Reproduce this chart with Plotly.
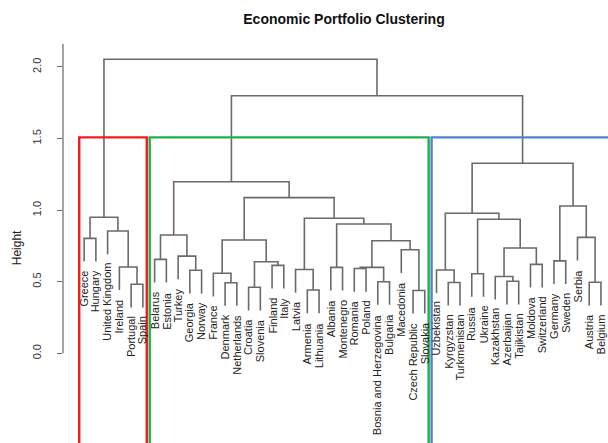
import plotly.graph_objects as go

title_text = "Economic Portfolio Clustering"
y_title = "Height"

leaves = ["Greece", "Hungary", "United Kingdom", "Ireland", "Portugal", "Spain",
          "Belarus", "Estonia", "Turkey", "Georgia", "Norway", "France", "Denmark",
          "Netherlands", "Croatia", "Slovenia", "Finland", "Italy", "Latvia", "Armenia",
          "Lithuania", "Albania", "Montenegro", "Romania", "Poland",
          "Bosnia and Herzegovina", "Bulgaria", "Macedonia", "Czech Republic", "Slovakia",
          "Uzbekistan", "Kyrgyzstan", "Turkmenistan", "Russia", "Ukraine", "Kazakhstan",
          "Azerbaijan", "Tajikistan", "Moldova", "Switzerland", "Germany", "Sweden",
          "Serbia", "Austria", "Belgium"]

# each merge joins two members: a leaf name or the index of an earlier merge
merge_left = ["Portugal", "Ireland", "United Kingdom", "Greece", 3,
              "Belarus", "Georgia", "Turkey", 5,
              "Denmark", "France", "Croatia", "Finland", 11, 10,
              "Armenia", "Latvia", "Albania", "Romania", "Bosnia and Herzegovina", 18,
              "Czech Republic", "Macedonia", 20, 17, 16, 14, 8,
              "Kyrgyzstan", "Uzbekistan", "Russia", "Azerbaijan", "Kazakhstan", "Moldova",
              32, 30, 29, "Germany", "Austria", "Serbia", 37, 36, 27, 4]
merge_right = ["Spain", 0, 1, "Hungary", 2,
               "Estonia", "Norway", 6, 7,
               "Netherlands", 9, "Slovenia", "Italy", 12, 13,
               "Lithuania", 15, "Montenegro", "Poland", "Bulgaria", 19,
               "Slovakia", 21, 22, 23, 24, 25, 26,
               "Turkmenistan", 28, "Ukraine", "Tajikistan", 31, "Switzerland",
               33, 34, 35, "Sweden", "Belgium", 38, 39, 40, 41, 42]
merge_height = [0.482, 0.603, 0.854, 0.803, 0.950,
                0.656, 0.580, 0.679, 0.826,
                0.493, 0.559, 0.461, 0.614, 0.640, 0.791,
                0.442, 0.585, 0.600, 0.592, 0.500, 0.600,
                0.439, 0.723, 0.786, 0.903, 0.943, 1.087, 1.198,
                0.495, 0.582, 0.556, 0.503, 0.537, 0.621,
                0.736, 0.936, 0.978, 0.646, 0.496, 0.810, 1.029, 1.327, 1.799, 2.053]

cluster_sizes = [6, 24, 15]
cluster_colors = ["#F21C1C", "#20B04A", "#4F82D0"]
cut_height = 1.508

y_ticks = [0.0, 0.5, 1.0, 1.5, 2.0]
y_tick_labels = ["0.0", "0.5", "1.0", "1.5", "2.0"]

FONT = "Liberation Sans, Arial, sans-serif"
Y_MIN, Y_MAX = -0.626, 2.160
X_MIN, X_MAX = -0.80, 45.60

# ---- dendrogram geometry -------------------------------------------------
pos = {name: i + 1 for i, name in enumerate(leaves)}
hang = 0.1 * (max(merge_height) - min(merge_height))
node_x = []
leaf_end = {}
xs, ys = [], []


def member(c, h):
    if isinstance(c, str):
        leaf_end[c] = h - hang
        return pos[c], h - hang
    return node_x[c], merge_height[c]


for a, b, h in zip(merge_left, merge_right, merge_height):
    xa, ya = member(a, h)
    xb, yb = member(b, h)
    xs += [xa, xa, xb, xb, None]
    ys += [ya, h, h, yb, None]
    node_x.append((xa + xb) / 2)

fig = go.Figure()
fig.add_trace(go.Scatter(x=xs, y=ys, mode="lines", hoverinfo="skip",
                         line=dict(color="#6a6a6a", width=1.6), showlegend=False))

shapes = []
start = 0
for k, (size, col) in enumerate(zip(cluster_sizes, cluster_colors)):
    right = start + size + 0.33
    if k == len(cluster_sizes) - 1:
        right = X_MAX + 1  # last box runs past the cropped right edge
    shapes.append(dict(type="rect", xref="x", yref="y",
                       x0=start + 1 - 0.42, x1=right,
                       y0=Y_MIN - 1, y1=cut_height,
                       line=dict(color=col, width=2.4), fillcolor="rgba(0,0,0,0)",
                       layer="above"))
    start += size

# y axis line (only from 0 upwards, like the reference)
shapes.append(dict(type="line", xref="paper", yref="y", x0=0, x1=0, y0=0, y1=Y_MAX,
                   line=dict(color="#666666", width=1.2)))

annotations = []
for name in leaves:
    annotations.append(dict(x=pos[name], y=leaf_end[name], xref="x", yref="y",
                            text=name, showarrow=False, textangle=-90, borderpad=0,
                            xanchor="center", yanchor="top", yshift=-8,
                            font=dict(family=FONT, size=11, color="#222222")))

annotations.append(dict(x=-0.083, y=0.49, xref="paper", yref="paper", text=y_title,
                        showarrow=False, textangle=-90, xanchor="center", yanchor="middle",
                        font=dict(family=FONT, size=12, color="#222222")))

fig.update_layout(
    width=608, height=443,
    margin=dict(l=63, r=0, t=44, b=0),
    paper_bgcolor="white", plot_bgcolor="white",
    title=dict(text="<b>" + title_text + "</b>", x=344 / 608, xref="container",
               xanchor="center", y=1 - 19 / 443, yanchor="middle",
               font=dict(family=FONT, size=14, color="#111111")),
    xaxis=dict(range=[X_MIN, X_MAX], visible=False, fixedrange=True),
    yaxis=dict(range=[Y_MIN, Y_MAX], tickvals=y_ticks, ticktext=y_tick_labels,
               ticks="outside", ticklen=5, tickwidth=1.2, tickcolor="#666666",
               tickangle=-90, tickfont=dict(family=FONT, size=11, color="#333333"),
               ticklabelstandoff=12,
               showgrid=False, zeroline=False, showline=False, fixedrange=True),
    shapes=shapes, annotations=annotations,
)

fig.write_html("out.html", config={"displayModeBar": False},
               post_script="document.body.style.margin='0';document.body.style.overflow='hidden';")
